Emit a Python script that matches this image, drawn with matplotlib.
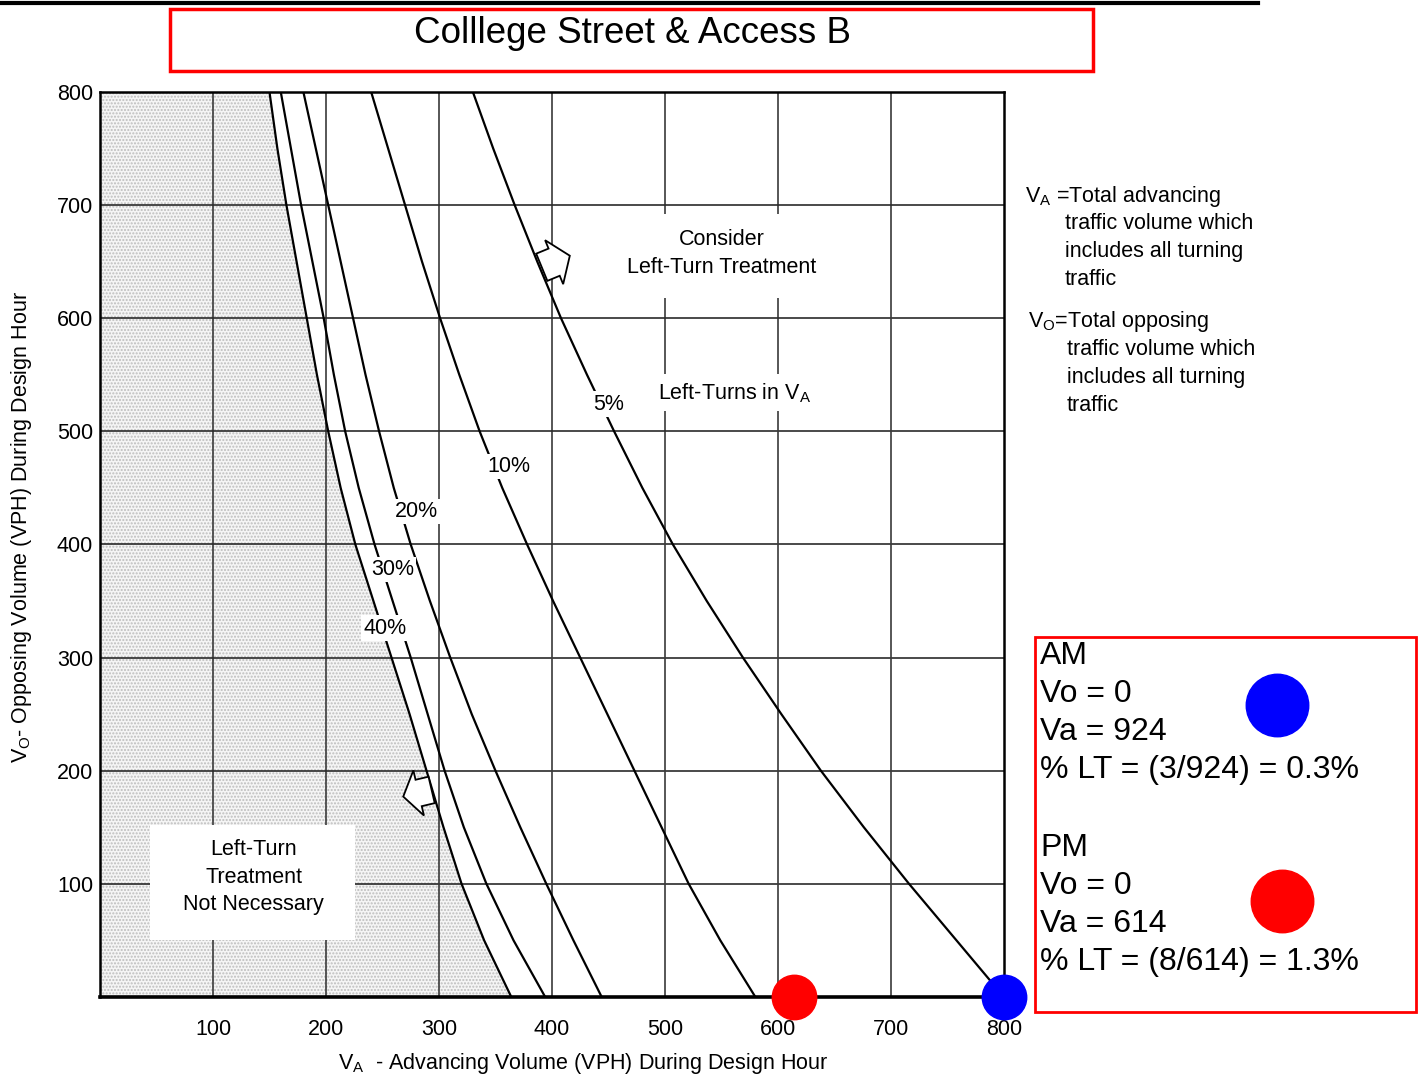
import numpy as np
import matplotlib
matplotlib.use("Agg")
import matplotlib.pyplot as plt
from matplotlib.patches import Rectangle, FancyArrow
from matplotlib.lines import Line2D

plt.rcParams['font.family'] = ['Liberation Sans', 'DejaVu Sans']
plt.rcParams['mathtext.fontset'] = 'custom'
plt.rcParams['mathtext.rm'] = 'Liberation Sans'
plt.rcParams['mathtext.it'] = 'Liberation Sans'

vo_levels = [800, 750, 700, 650, 600, 550, 500, 450, 400, 350, 300, 250, 200, 150, 100, 50, 0]
# advancing volume on each left-turn % curve
va_40 = [150, 157, 165, 174, 183, 192, 202, 213, 226, 242, 258, 274, 289, 304, 320, 340, 364]
va_30 = [160, 169, 178, 188, 198, 207, 217, 229, 243, 259, 275, 290, 305, 322, 342, 366, 394]
va_20 = [180, 191, 202, 213, 224, 235, 247, 260, 275, 292, 310, 329, 350, 372, 395, 419, 444]
va_10 = [240, 255, 270, 285, 301, 318, 336, 356, 378, 401, 425, 449, 473, 497, 521, 549, 580]
va_5 = [330, 348, 367, 387, 408, 431, 455, 480, 507, 537, 569, 603, 638, 676, 716, 758, 800]

curve_labels = ["40%", "30%", "20%", "10%", "5%"]
label_x = [252, 259, 280, 362, 450]
label_y = [326, 378, 429, 469, 524]

ticks = [100, 200, 300, 400, 500, 600, 700, 800]

# study intersection volumes
am_vo, am_va = 0, 924
pm_vo, pm_va = 0, 614
am_lines = ["AM", "Vo = 0", "Va = 924", "% LT = (3/924) = 0.3%"]
pm_lines = ["PM", "Vo = 0", "Va = 614", "% LT = (8/614) = 1.3%"]

fig = plt.figure(figsize=(14.18, 10.8), dpi=100)
ax = fig.add_axes([0.0705, 0.0769, 0.6375, 0.838])
ax.set_xlim(0, 800)
ax.set_ylim(0, 800)

# stippled "not necessary" zone
ax.fill_betweenx(vo_levels, 0, va_40, facecolor='#f5f5f5', hatch='.....',
                 edgecolor='#bdbdbd', linewidth=0, zorder=0.5)

for t in ticks[:-1]:
    ax.axvline(t, color='#3a3a3a', lw=1.2, zorder=1)
    ax.axhline(t, color='#2a2a2a', lw=1.2, zorder=1)

for va in [va_40, va_30, va_20, va_10, va_5]:
    ax.plot(va, vo_levels, color='black', lw=1.6, zorder=2)

for lab, lx, ly in zip(curve_labels, label_x, label_y):
    ax.text(lx, ly, lab, fontsize=15.5, ha='center', va='center', zorder=3,
            bbox=dict(facecolor='white', edgecolor='none', pad=1.5))

# white panels behind the region notes
ax.add_patch(Rectangle((445, 618), 225, 74, fc='white', ec='none', zorder=1.5))
ax.add_patch(Rectangle((480, 518), 175, 33, fc='white', ec='none', zorder=1.5))
ax.add_patch(Rectangle((44, 50), 182, 102, fc='white', ec='none', zorder=1.5))

ax.text(550, 657, "Consider\nLeft-Turn Treatment", fontsize=15.5, ha='center',
        va='center', linespacing=1.45, zorder=3)
ax.text(562, 534, r"Left-Turns in V$_\mathregular{A}$", fontsize=15.5, ha='center',
        va='center', zorder=3)
ax.text(136, 106, "Left-Turn\nTreatment\nNot Necessary", fontsize=15.5, ha='center',
        va='center', linespacing=1.4, zorder=3)

# hollow arrows
ax.add_patch(FancyArrow(391, 645, 24.8, 10.2, width=26, head_width=42, head_length=15,
                        length_includes_head=True, fc='white', ec='black', lw=1.3, zorder=4))
ax.add_patch(FancyArrow(293.5, 183, -25.1, -5.9, width=24, head_width=41, head_length=14,
                        length_includes_head=True, fc='white', ec='black', lw=1.3, zorder=4))

# plotted volumes (clipped to the chart range)
ax.plot(min(pm_va, 800), pm_vo, 'o', color='#ff0000', ms=32, clip_on=False, zorder=6)
ax.plot(min(am_va, 800), am_vo, 'o', color='#0000ff', ms=32, clip_on=False, zorder=6)

ax.set_xticks(ticks)
ax.set_yticks(ticks)
ax.tick_params(length=0, labelsize=15.5)
ax.tick_params(axis='x', pad=16)
ax.tick_params(axis='y', pad=5)
for s in ax.spines.values():
    s.set_linewidth(1.8)
ax.spines['bottom'].set_linewidth(2.6)

fig.text(0.411, 0.0157, r"V$_\mathregular{A}$  - Advancing Volume (VPH) During Design Hour",
         fontsize=15.5, ha='center', va='center')
fig.text(0.015, 0.512, r"V$_\mathregular{O}$- Opposing Volume (VPH) During Design Hour",
         fontsize=15.5, ha='center', va='center', rotation=90)

# title
fig.add_artist(Line2D([0, 0.887], [0.997, 0.997], color='black', lw=3, transform=fig.transFigure))
fig.add_artist(Rectangle((0.1199, 0.934), 0.651, 0.0574, transform=fig.transFigure,
                         fill=False, ec='#ff0000', lw=2.5))
fig.text(0.4457, 0.969, "Colllege Street & Access B", fontsize=26.5, ha='center', va='center')

# definitions
fig.text(0.7228, 0.8185, r"V$_\mathregular{A}$ =Total advancing", fontsize=15.5, va='center')
for i, s in enumerate(["traffic volume which", "includes all turning", "traffic"]):
    fig.text(0.751, 0.7926 - i * 0.0259, s, fontsize=15.5, va='center')
fig.text(0.725, 0.7019, r"V$_\mathregular{O}$=Total opposing", fontsize=15.5, va='center')
for i, s in enumerate(["traffic volume which", "includes all turning", "traffic"]):
    fig.text(0.7525, 0.676 - i * 0.0259, s, fontsize=15.5, va='center')

# AM / PM box
fig.add_artist(Rectangle((0.730, 0.063), 0.2687, 0.347, transform=fig.transFigure,
                         fill=False, ec='#ff0000', lw=2))
for i, s in enumerate(am_lines):
    fig.text(0.7334, (1080 - 656 - 38 * i) / 1080, s, fontsize=23, va='center')
for i, s in enumerate(pm_lines):
    fig.text(0.7334, (1080 - 848 - 38 * i) / 1080, s, fontsize=23, va='center')
fig.add_artist(Line2D([0.9006], [0.3472], marker='o', ms=45, color='#0000ff', ls='none',
                      transform=fig.transFigure))
fig.add_artist(Line2D([0.9041], [0.1657], marker='o', ms=45, color='#ff0000', ls='none',
                      transform=fig.transFigure))

fig.savefig("out.png", dpi=100)
